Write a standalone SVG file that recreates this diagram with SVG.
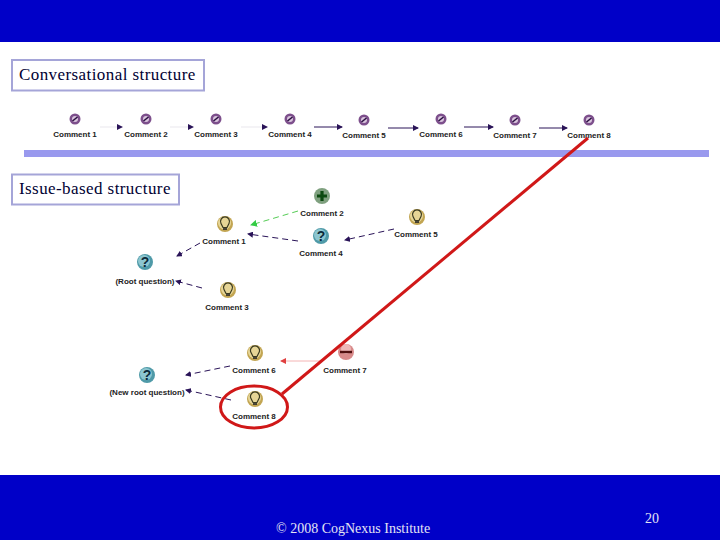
<svg xmlns="http://www.w3.org/2000/svg" width="720" height="540" viewBox="0 0 720 540">
<style>
.title{font:17px "Liberation Serif",serif;letter-spacing:.42px;fill:#000033}
.box{fill:#fff;stroke:#a5a5d8;stroke-width:2}
.lbl{font:bold 8px "Liberation Sans",Arial,sans-serif;fill:#222;text-anchor:middle}
.foot{font:14px "Liberation Serif",serif;fill:#e4e4f4}
.c{fill:none;stroke:#2a1458;stroke-width:1}
.d{stroke-dasharray:6 4}
.q{font:bold 14px "Liberation Sans",Arial,sans-serif;fill:#0b2a3a;text-anchor:middle}
</style>
<defs>
<marker id="a" markerWidth="6" markerHeight="6" refX="5" refY="3" orient="auto" markerUnits="userSpaceOnUse"><path d="M0 0L6 3L0 6Z" fill="#2a1458"/></marker>
<marker id="g" markerWidth="7" markerHeight="7" refX="6" refY="3.500" orient="auto" markerUnits="userSpaceOnUse"><path d="M0 0L7 3.500L0 7Z" fill="#33cc44"/></marker>
<marker id="p" markerWidth="6" markerHeight="6" refX="5" refY="3" orient="auto" markerUnits="userSpaceOnUse"><path d="M0 0L6 3L0 6Z" fill="#e04040"/></marker>
<g id="conv"><circle r="5.500" fill="#7d4f8c"/><circle r="3" fill="#d8c4dc"/><path d="M-2.500 2L2.500-2" stroke="#2a1040" stroke-width="1.600"/></g>
<g id="bulb"><circle r="8" fill="#c2a552"/><circle cx="-.5" cy="-1" r="6.500" fill="#e6d596"/><path d="M-2 3.500L-4-.5A4.500 4.500 0 1 1 4-.5L2 3.500Z" fill="none" stroke="#3a3a20" stroke-width="1.200"/><path d="M-2 5H2" stroke="#222" stroke-width="1.600"/></g>
<g id="ques"><circle r="8" fill="#4f9aa8"/><circle cx="-1" cy="-1" r="6" fill="#8cc6d0"/><text class="q" y="5">?</text></g>
<g id="plus"><circle r="8" fill="#7fa07f"/><path d="M-5 0H5M0-5V5" stroke="#0c4a10" stroke-width="3.200"/></g>
<g id="minus"><circle r="8" fill="#d88a8a"/><circle cx="0" cy="-3" r="5" fill="#eeb8b8"/><path d="M-6 0H6" stroke="#501010" stroke-width="2.400"/></g>
</defs>
<rect width="720" height="540" fill="#fff"/>
<rect width="720" height="42" fill="#0000c8"/>
<rect y="475" width="720" height="65" fill="#0000c8"/>
<rect x="24" y="150" width="685" height="7" fill="#9999ee"/>
<g id="title-conv"><rect class="box" x="12" y="60" width="192" height="30.500"/><text class="title" x="19" y="80">Conversational structure</text></g>
<g id="title-issue"><rect class="box" x="12" y="174.500" width="167" height="30"/><text class="title" x="19" y="194">Issue-based structure</text></g>
<g id="connectors">
<path class="c" stroke-opacity=".1" d="M100 127H122" marker-end="url(#a)"/>
<path class="c" stroke-opacity=".1" d="M170 127H193" marker-end="url(#a)"/>
<path class="c" stroke-opacity=".1" d="M241 127H267" marker-end="url(#a)"/>
<path class="c" d="M314 127H342" marker-end="url(#a)"/>
<path class="c" d="M388 128H418" marker-end="url(#a)"/>
<path class="c" d="M464 127H493" marker-end="url(#a)"/>
<path class="c" d="M539 128H567" marker-end="url(#a)"/>
<path class="c d" style="stroke:#55cc55" d="M298 211L251 225" marker-end="url(#g)"/>
<path class="c d" d="M200 243L177 256" marker-end="url(#a)"/>
<path class="c d" d="M298 241L248 234" marker-end="url(#a)"/>
<path class="c d" d="M394 229L345 240" marker-end="url(#a)"/>
<path class="c d" d="M202 288L176 281" marker-end="url(#a)"/>
<path class="c d" d="M230 366L186 375" marker-end="url(#a)"/>
<path class="c d" d="M231 400L186 390" marker-end="url(#a)"/>
<path class="c" style="stroke:#f4b4b4" d="M320 361L281 361" marker-end="url(#p)"/>
</g>
<g id="n1"><use href="#conv" x="75" y="119"/><text class="lbl" x="75" y="137">Comment 1</text></g>
<g id="n2"><use href="#conv" x="146" y="119"/><text class="lbl" x="146" y="137">Comment 2</text></g>
<g id="n3"><use href="#conv" x="216" y="119"/><text class="lbl" x="216" y="137">Comment 3</text></g>
<g id="n4"><use href="#conv" x="290" y="119"/><text class="lbl" x="290" y="137">Comment 4</text></g>
<g id="n5"><use href="#conv" x="364" y="120"/><text class="lbl" x="364" y="138">Comment 5</text></g>
<g id="n6"><use href="#conv" x="441" y="119"/><text class="lbl" x="441" y="137">Comment 6</text></g>
<g id="n7"><use href="#conv" x="515" y="120"/><text class="lbl" x="515" y="138">Comment 7</text></g>
<g id="n8"><use href="#conv" x="589" y="120"/><text class="lbl" x="589" y="138">Comment 8</text></g>
<g id="i2"><use href="#plus" x="322" y="196"/><text class="lbl" x="322" y="216">Comment 2</text></g>
<g id="i1"><use href="#bulb" x="225" y="224"/><text class="lbl" x="224" y="244">Comment 1</text></g>
<g id="i4"><use href="#ques" x="321" y="236"/><text class="lbl" x="321" y="256">Comment 4</text></g>
<g id="i5"><use href="#bulb" x="417" y="217"/><text class="lbl" x="416" y="237">Comment 5</text></g>
<g id="iroot"><use href="#ques" x="145" y="262"/><text class="lbl" x="145" y="284">(Root question)</text></g>
<g id="i3"><use href="#bulb" x="228" y="290"/><text class="lbl" x="227" y="310">Comment 3</text></g>
<g id="i6"><use href="#bulb" x="255" y="353"/><text class="lbl" x="254" y="373">Comment 6</text></g>
<g id="i7"><use href="#minus" x="346" y="352"/><text class="lbl" x="345" y="373">Comment 7</text></g>
<g id="inew"><use href="#ques" x="147" y="375"/><text class="lbl" x="147" y="395">(New root question)</text></g>
<g id="i8"><use href="#bulb" x="255" y="399"/><text class="lbl" x="254" y="419">Comment 8</text></g>
<g id="highlight" fill="none" stroke="#d01818" stroke-width="3"><path d="M588 138L282 394"/><ellipse cx="254" cy="407" rx="33.500" ry="21"/></g>
<text class="foot" x="276" y="533">© 2008 CogNexus Institute</text>
<text class="foot" x="645" y="523">20</text>
</svg>
